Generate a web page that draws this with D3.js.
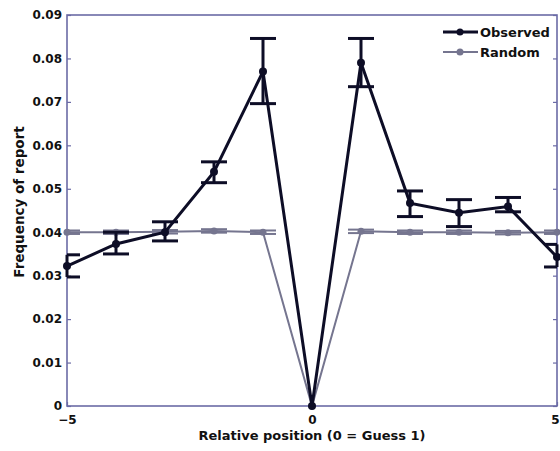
<!DOCTYPE html>
<html>
<head>
<meta charset="utf-8">
<script src="https://cdn.jsdelivr.net/npm/d3@7/dist/d3.min.js"></script>
<style>
  html, body { margin: 0; padding: 0; background: #fff; }
  svg text { font-family: "DejaVu Sans", "Liberation Sans", Arial, sans-serif; font-weight: bold; fill: #111; }
</style>
</head>
<body>
<svg id="chart" width="560" height="451"></svg>
<script>
// Relative position of the report (0 = Guess 1)
const positions = [-5, -4, -3, -2, -1, 0, 1, 2, 3, 4, 5];

// Observed frequency of report, with lower / upper error-bar ends
const observed      = [0.0322, 0.0373, 0.0400, 0.0539, 0.0770, 0.0000, 0.0790, 0.0467, 0.0445, 0.0459, 0.0343];
const observedLow   = [0.0297, 0.0350, 0.0380, 0.0514, 0.0696, 0.0000, 0.0735, 0.0436, 0.0413, 0.0447, 0.0320];
const observedHigh  = [0.0348, 0.0400, 0.0424, 0.0562, 0.0846, 0.0000, 0.0846, 0.0495, 0.0475, 0.0480, 0.0372];

// Frequency expected under random reporting
const random        = [0.0400, 0.0400, 0.0401, 0.0403, 0.0400, 0.0000, 0.0402, 0.0400, 0.0400, 0.0399, 0.0400];
const randomLow     = [0.0396, 0.0396, 0.0397, 0.0399, 0.0396, 0.0000, 0.0398, 0.0396, 0.0396, 0.0395, 0.0396];
const randomHigh    = [0.0404, 0.0404, 0.0405, 0.0407, 0.0404, 0.0000, 0.0406, 0.0404, 0.0404, 0.0403, 0.0404];

const xTicks = [-5, 0, 5];
const yTicks = [0, 0.01, 0.02, 0.03, 0.04, 0.05, 0.06, 0.07, 0.08, 0.09];
const yTickLabels = ["0", "0.01", "0.02", "0.03", "0.04", "0.05", "0.06", "0.07", "0.08", "0.09"];

const svg = d3.select("#chart");
const margin = { left: 67, right: 3, top: 15, bottom: 45 };
const W = 560, H = 451;

const x = d3.scaleLinear().domain([-5, 5]).range([margin.left, W - margin.right]);
const y = d3.scaleLinear().domain([0, 0.09]).range([H - margin.bottom, margin.top]);

const axisColor = "#6b6ba6";
const obsColor = "#0d0d26";
const randColor = "#75758f";

// Frame
svg.append("rect")
  .attr("x", x(-5)).attr("y", y(0.09))
  .attr("width", x(5) - x(-5)).attr("height", y(0) - y(0.09))
  .attr("fill", "none").attr("stroke", axisColor).attr("stroke-width", 1.6);

// Left axis (ticks pointing inward)
const yAxis = d3.axisLeft(y).tickValues(yTicks)
  .tickFormat((d, i) => yTickLabels[i]).tickSizeInner(-4).tickSizeOuter(0).tickPadding(5);
const gy = svg.append("g").attr("transform", `translate(${x(-5)},0)`).call(yAxis);
gy.select(".domain").remove();
gy.selectAll("line").attr("stroke", axisColor).attr("stroke-width", 1.2);
gy.selectAll("text").style("font-size", "12px").style("font-family", "DejaVu Sans")
  .style("font-weight", "bold").attr("fill", "#111");

// Right axis ticks
const yAxisR = d3.axisRight(y).tickValues(yTicks).tickFormat("").tickSizeInner(-4).tickSizeOuter(0);
const gyr = svg.append("g").attr("transform", `translate(${x(5)},0)`).call(yAxisR);
gyr.select(".domain").remove();
gyr.selectAll("line").attr("stroke", axisColor).attr("stroke-width", 1.2);

// Bottom axis
const xAxis = d3.axisBottom(x).tickValues(xTicks).tickFormat(d3.format("d"))
  .tickSizeInner(-4).tickSizeOuter(0).tickPadding(9);
const gx = svg.append("g").attr("transform", `translate(0,${y(0)})`).call(xAxis);
gx.select(".domain").remove();
gx.selectAll("line").attr("stroke", axisColor).attr("stroke-width", 1.2);
gx.selectAll("text").style("font-size", "12px").style("font-family", "DejaVu Sans")
  .style("font-weight", "bold").attr("fill", "#111")
  .text(d => d < 0 ? "\u2212" + Math.abs(d) : d)
  // keep the last label inside the page edge
  .attr("text-anchor", d => d === 5 ? "end" : "middle")
  .attr("x", d => d === 5 ? 2 : 0);

// Axis titles
svg.append("text")
  .attr("x", (x(-5) + x(5)) / 2).attr("y", 440)
  .attr("text-anchor", "middle").style("font-size", "13px")
  .text("Relative position (0 = Guess 1)");
svg.append("text")
  .attr("transform", `translate(24,202) rotate(-90)`)
  .attr("text-anchor", "middle").style("font-size", "13.5px")
  .text("Frequency of report");

const rows = positions.map((p, i) => ({
  p, obs: observed[i], oLo: observedLow[i], oHi: observedHigh[i],
  rnd: random[i], rLo: randomLow[i], rHi: randomHigh[i]
}));

function drawSeries(key, lo, hi, color, width, capHalf, markerR) {
  const g = svg.append("g");
  const line = d3.line().x(d => x(d.p)).y(d => y(d[key]));
  g.append("path").datum(rows).attr("d", line)
    .attr("fill", "none").attr("stroke", color).attr("stroke-width", width)
    .attr("stroke-linejoin", "miter");
  const eb = g.selectAll(".eb").data(rows.filter(d => d[hi] > d[lo])).join("g");
  eb.append("line")
    .attr("x1", d => x(d.p)).attr("x2", d => x(d.p))
    .attr("y1", d => y(d[lo])).attr("y2", d => y(d[hi]))
    .attr("stroke", color).attr("stroke-width", width);
  [lo, hi].forEach(k => {
    eb.append("line")
      .attr("x1", d => Math.max(x(-5), x(d.p) - capHalf))
      .attr("x2", d => Math.min(x(5), x(d.p) + capHalf))
      .attr("y1", d => y(d[k])).attr("y2", d => y(d[k]))
      .attr("stroke", color).attr("stroke-width", width);
  });
  g.selectAll("circle").data(rows).join("circle")
    .attr("cx", d => x(d.p)).attr("cy", d => y(d[key])).attr("r", markerR)
    .attr("fill", color);
}

drawSeries("rnd", "rLo", "rHi", randColor, 2, 13, 3.5);
drawSeries("obs", "oLo", "oHi", obsColor, 3, 13, 4);

// Legend
const legend = [
  { name: "Observed", color: obsColor, w: 3, yy: 32 },
  { name: "Random", color: randColor, w: 2, yy: 52 }
];
const lg = svg.append("g");
legend.forEach(l => {
  lg.append("line").attr("x1", 443).attr("x2", 478).attr("y1", l.yy).attr("y2", l.yy)
    .attr("stroke", l.color).attr("stroke-width", l.w);
  lg.append("circle").attr("cx", 460).attr("cy", l.yy).attr("r", 3.5).attr("fill", l.color);
  lg.append("text").attr("x", 480).attr("y", l.yy + 5).style("font-size", "13px").text(l.name);
});
</script>
</body>
</html>
